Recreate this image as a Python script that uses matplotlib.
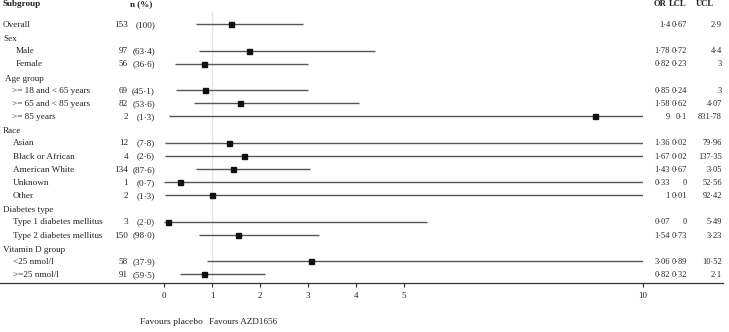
import matplotlib
matplotlib.use("Agg")
import matplotlib.pyplot as plt
from matplotlib.lines import Line2D
from matplotlib.transforms import blended_transform_factory
import numpy as np

plt.rcParams['font.family'] = ['Liberation Serif', 'DejaVu Serif']

# ---- data ----
labels = ["Overall", "Sex", "Male", "Female", "Age group",
          ">= 18 and < 65 years", ">= 65 and < 85 years", ">= 85 years",
          "Race", "Asian", "Black or African", "American White", "Unknown", "Other",
          "Diabetes type", "Type 1 diabetes mellitus", "Type 2 diabetes mellitus",
          "Vitamin D group", "<25 nmol/l", ">=25 nmol/l"]
n_vals = [153, None, 97, 56, None, 69, 82, 2, None, 12, 4, 134, 1, 2,
          None, 3, 150, None, 58, 91]
pct_vals = [100, None, 63.4, 36.6, None, 45.1, 53.6, 1.3, None, 7.8, 2.6, 87.6, 0.7, 1.3,
            None, 2.0, 98.0, None, 37.9, 59.5]
or_vals = [1.4, None, 1.78, 0.82, None, 0.85, 1.58, 9, None, 1.36, 1.67, 1.43, 0.33, 1,
           None, 0.07, 1.54, None, 3.06, 0.82]
lcl_vals = [0.67, None, 0.72, 0.23, None, 0.24, 0.62, 0.1, None, 0.02, 0.02, 0.67, 0, 0.01,
            None, 0, 0.73, None, 0.89, 0.32]
ucl_vals = [2.9, None, 4.4, 3, None, 3, 4.07, 831.78, None, 79.96, 137.35, 3.05, 52.56, 92.42,
            None, 5.49, 3.23, None, 10.52, 2.1]
xticks = [0, 1, 2, 3, 4, 5, 10]

# ---- layout ----
W, H = 729, 332
indent_px = [3, 3, 16, 16, 5, 12, 12, 12, 3, 13, 13, 13, 13, 13, 3, 13, 13, 3, 13, 13]
fig = plt.figure(figsize=(W / 100, H / 100), dpi=100)
ax_left, ax_right, ax_top, ax_bot = 150, 642.7, 12, 283.3
ax = fig.add_axes([ax_left / W, 1 - ax_bot / H, (ax_right - ax_left) / W, (ax_bot - ax_top) / H])
x0_px, scale = 164.3, (642.7 - 164.3) / 10
ax.set_xlim(-(x0_px - ax_left) / scale, 10)
r0, rs = 24.3, 13.16
ax.set_ylim((ax_bot - r0) / rs, (ax_top - r0) / rs)
for s in ax.spines.values():
    s.set_visible(False)
ax.set_yticks([])
ax.set_xticks(xticks)
ax.set_xticklabels([str(t) for t in xticks])
ax.tick_params(axis='x', direction='out', length=3.2, width=0.8, color='#333333',
               labelsize=6.5, labelcolor='#222222', pad=3)
ax.patch.set_alpha(0)

ax.axvline(1, color='#e6e6e6', lw=0.9, zorder=0)

def fmt(v):
    return f"{v:g}".replace('.', '\u00b7')

def fmt_pct(v):
    return "100" if v == 100 else f"{v:.1f}".replace('.', '\u00b7')

tr = blended_transform_factory(fig.transFigure, ax.transData)
fs = 6.6
fsr = 6.0
col = '#222222'
for i, lab in enumerate(labels):
    is_head = n_vals[i] is None
    yoff = 0.12 if is_head else 0.05
    ax.text(indent_px[i] / W, i + yoff, lab, transform=tr, fontsize=fs, color=col,
            ha='left', va='center')
    if is_head:
        continue
    ax.text(128 / W, i + yoff, str(n_vals[i]), transform=tr, fontsize=fs, color=col,
            ha='right', va='center')
    ax.text(155 / W, i + yoff, "(" + fmt_pct(pct_vals[i]) + ")", transform=tr, fontsize=fs,
            color=col, ha='right', va='center')
    ax.text(670 / W, i + yoff, fmt(or_vals[i]), transform=tr, fontsize=fsr, color=col,
            ha='right', va='center')
    ax.text(687 / W, i + yoff, fmt(lcl_vals[i]), transform=tr, fontsize=fsr, color=col,
            ha='right', va='center')
    ax.text(722 / W, i + yoff, fmt(ucl_vals[i]), transform=tr, fontsize=fsr, color=col,
            ha='right', va='center')
    ax.plot([lcl_vals[i], ucl_vals[i]], [i, i], color='#555555', lw=1.0,
            solid_capstyle='butt', zorder=2)
    ax.plot([or_vals[i]], [i], marker='s', ms=3.6, color='#111111', zorder=3, clip_on=False)

# headers
hy = (4 - r0) / rs
ax.text(3 / W, hy, "Subgroup", transform=tr, fontsize=fs, fontweight='bold', color=col,
        ha='left', va='center')
ax.text(141.5 / W, hy, "n (%)", transform=tr, fontsize=fs, fontweight='bold', color=col,
        ha='center', va='center')
ax.text(660 / W, hy, "OR", transform=tr, fontsize=6.2, fontweight='bold', color=col,
        ha='center', va='center')
ax.text(678 / W, hy, "LCL", transform=tr, fontsize=6.2, fontweight='bold', color=col,
        ha='center', va='center')
ax.text(705 / W, hy, "UCL", transform=tr, fontsize=6.2, fontweight='bold', color=col,
        ha='center', va='center')

# full-width axis line
fig.add_artist(Line2D([0, 723 / W], [1 - ax_bot / H] * 2, transform=fig.transFigure,
                      color='#333333', lw=0.9))

fig.text(140 / W, 1 - 322 / H, "Favours placebo", fontsize=6.8, color=col, ha='left', va='center')
fig.text(209 / W, 1 - 322 / H, "Favours AZD1656", fontsize=6.6, color=col, ha='left', va='center')

fig.savefig("out.png", dpi=100)
